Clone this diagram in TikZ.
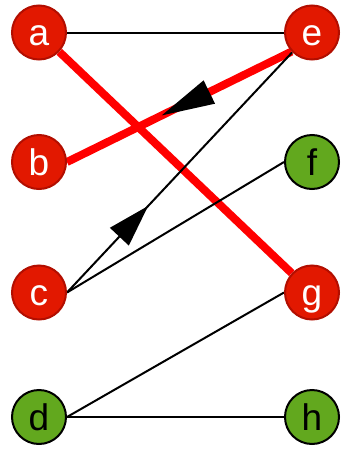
\documentclass[tikz,border=0pt]{standalone}
\usepackage{fontspec}
\setmainfont{Liberation Sans}
\usetikzlibrary{decorations.markings,backgrounds}
\definecolor{nodered}{RGB}{226,24,0}
\definecolor{nodeedge}{RGB}{178,14,0}
\definecolor{nodegreen}{RGB}{98,168,30}
\definecolor{matchred}{RGB}{255,0,0}
\begin{document}
\begin{tikzpicture}[x=1pt,y=1pt,
  vtx/.style={circle,minimum size=54pt,inner sep=0pt,line width=2pt,
    text height=26pt,text depth=0pt,font=\fontsize{37}{37}\selectfont},
  rednode/.style={vtx,fill=nodered,draw=nodeedge,text=white},
  greennode/.style={vtx,fill=nodegreen,draw=black,text=black},
  plainedge/.style={line width=2pt,black},
  matched/.style={line width=8pt,matchred},
  midarrow/.style n args={3}{postaction={decorate},decoration={markings,
    mark=at position #1 with {\fill[black] (0pt,0pt) -- (-#2,#3) -- (-#2,-#3) -- cycle;}}}
]
\useasboundingbox (0,0) rectangle (348,-453);
\node[rednode] (a) at (39,-32.5) {a};
\node[rednode] (b) at (39,-162) {b};
\node[rednode] (c) at (39,-292.5) {c};
\node[greennode] (d) at (39,-417) {d};
\node[rednode] (e) at (312,-32.5) {e};
\node[greennode] (f) at (312,-162) {f};
\node[rednode] (g) at (312,-292.5) {g};
\node[greennode] (h) at (312,-417) {h};
\begin{scope}[on background layer]
\draw[matched] (a) -- (g);
\draw[matched,midarrow={0.578}{53pt}{13pt}] (e.223) -- (b.east);
\draw[plainedge] (a.east) -- (e.west);
\draw[plainedge,midarrow={0.36}{42pt}{13pt}] (c.east) -- (e.225);
\draw[plainedge] (c.east) -- (f.west);
\draw[plainedge] (d.east) -- (g.west);
\draw[plainedge] (d.east) -- (h.west);
\end{scope}
\end{tikzpicture}
\end{document}
